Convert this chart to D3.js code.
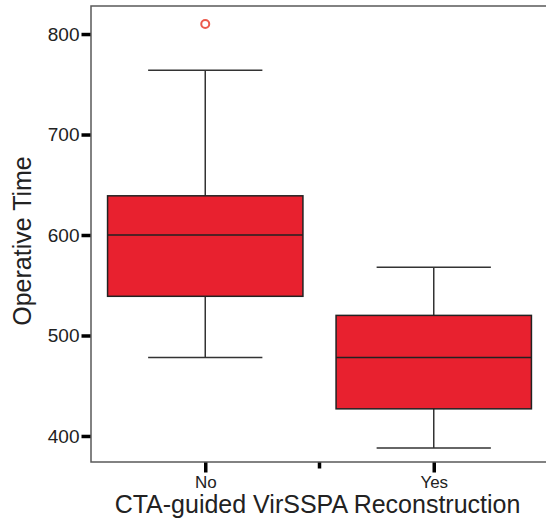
<!DOCTYPE html>
<html>
<head>
<meta charset="utf-8">
<script src="https://cdn.jsdelivr.net/npm/d3@7"></script>
<style>
  html, body { margin: 0; padding: 0; background: #fff; }
  svg { display: block; font-family: "Liberation Sans", Arial, sans-serif; }
</style>
</head>
<body>
<svg id="chart" width="546" height="525"></svg>
<script>
// Data
const categories = ["No", "Yes"];
const whiskerLow  = [478, 388];
const q1Values    = [539, 427];
const medians     = [600, 478];
const q3Values    = [639, 520];
const whiskerHigh = [764, 568];
const outliers    = [[810], []];
const yTicks      = [400, 500, 600, 700, 800];
const xTitle = "CTA-guided VirSSPA Reconstruction";
const yTitle = "Operative Time";

const svg = d3.select("#chart");
const pLeft = 91, pRight = 548, pTop = 6, pBottom = 462;

const y = d3.scaleLinear().domain([374.1, 827.9]).range([pBottom, pTop]);
const x = d3.scalePoint().domain(categories).range([pLeft, pRight]).padding(0.5);
const step = x.step();
const boxW = step * 0.855;
const capW = step * 0.5;

const boxes = categories.map((c, i) => ({
  c, lo: whiskerLow[i], q1: q1Values[i], med: medians[i], q3: q3Values[i], hi: whiskerHigh[i], out: outliers[i]
}));

const g = svg.append("g");

boxes.forEach(b => {
  const cx = x(b.c);
  g.append("line").attr("x1", cx).attr("x2", cx).attr("y1", y(b.q3)).attr("y2", y(b.hi))
    .attr("stroke", "#333").attr("stroke-width", 1.5);
  g.append("line").attr("x1", cx).attr("x2", cx).attr("y1", y(b.q1)).attr("y2", y(b.lo))
    .attr("stroke", "#333").attr("stroke-width", 1.5);
  g.append("line").attr("x1", cx - capW/2).attr("x2", cx + capW/2).attr("y1", y(b.hi)).attr("y2", y(b.hi))
    .attr("stroke", "#333").attr("stroke-width", 1.5);
  g.append("line").attr("x1", cx - capW/2).attr("x2", cx + capW/2).attr("y1", y(b.lo)).attr("y2", y(b.lo))
    .attr("stroke", "#333").attr("stroke-width", 1.5);
  g.append("rect").attr("x", cx - boxW/2).attr("width", boxW)
    .attr("y", y(b.q3)).attr("height", y(b.q1) - y(b.q3))
    .attr("fill", "#e8212f").attr("stroke", "#222").attr("stroke-width", 1.5);
  g.append("line").attr("x1", cx - boxW/2).attr("x2", cx + boxW/2).attr("y1", y(b.med)).attr("y2", y(b.med))
    .attr("stroke", "#222").attr("stroke-width", 1.5);
  b.out.forEach(o => {
    g.append("circle").attr("cx", cx).attr("cy", y(o)).attr("r", 4)
      .attr("fill", "none").attr("stroke", "#ec5a4c").attr("stroke-width", 2);
  });
});

// frame
svg.append("path")
  .attr("d", `M${pRight},${pTop}H${pLeft}V${pBottom}H${pRight}`)
  .attr("fill", "none").attr("stroke", "#5a5a5a").attr("stroke-width", 1.5);

// y axis
const yAxis = d3.axisLeft(y).tickValues(yTicks).tickSize(9).tickPadding(2);
const ya = svg.append("g").attr("transform", `translate(${pLeft - 0.5},0)`).call(yAxis);
ya.select(".domain").remove();
ya.selectAll(".tick line").attr("stroke", "#000").attr("stroke-width", 3.5);
ya.selectAll(".tick text").style("font-size", "19px").attr("fill", "#222").style("font-family", "Liberation Sans, Arial, sans-serif");

// x axis
const xAxis = d3.axisBottom(x).tickSize(10).tickPadding(3);
const xa = svg.append("g").attr("transform", `translate(0,${pBottom + 0.5})`).call(xAxis);
xa.select(".domain").remove();
xa.selectAll(".tick line").attr("stroke", "#000").attr("stroke-width", 3.5);
xa.selectAll(".tick text").style("font-size", "17px").attr("fill", "#222").style("font-family", "Liberation Sans, Arial, sans-serif");
const mid = (x(categories[0]) + x(categories[1])) / 2;
xa.append("line").attr("x1", mid).attr("x2", mid).attr("y1", 0).attr("y2", 6)
  .attr("stroke", "#000").attr("stroke-width", 3.5);

// titles
svg.append("text").attr("x", 317.5).attr("y", 513)
  .attr("text-anchor", "middle").attr("font-size", 25).attr("fill", "#222").text(xTitle);
svg.append("text").attr("transform", `translate(31,241) rotate(-90)`)
  .attr("text-anchor", "middle").attr("font-size", 25).attr("fill", "#222").text(yTitle);
</script>
</body>
</html>
